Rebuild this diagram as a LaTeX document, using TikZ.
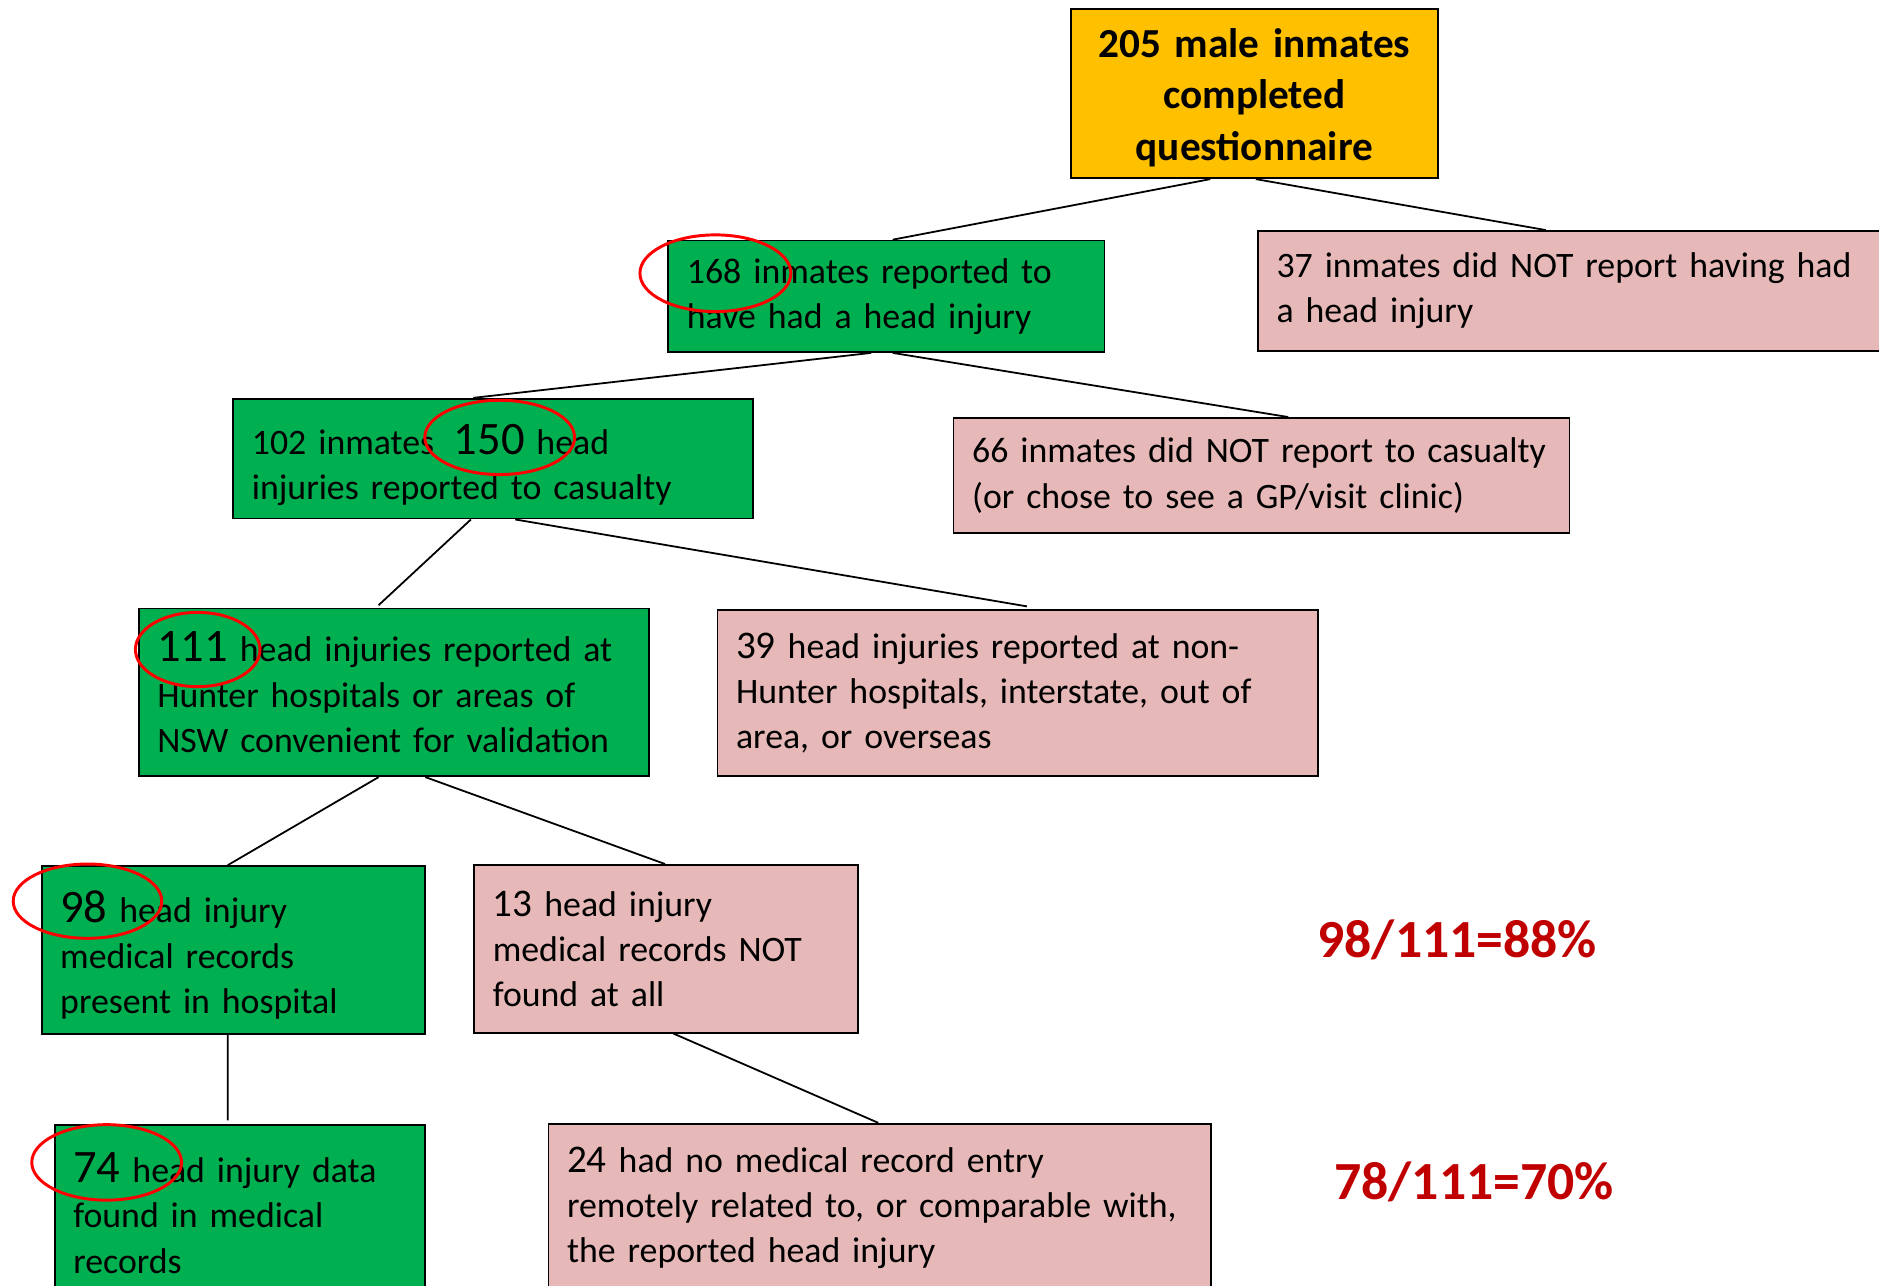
\documentclass[tikz,border=0pt]{standalone}
\usepackage{fontspec}
\setmainfont{Carlito}
\usetikzlibrary{shapes.geometric}
\definecolor{boxorange}{HTML}{FFC000}
\definecolor{boxgreen}{HTML}{00B050}
\definecolor{boxpink}{HTML}{E6B9B8}
\definecolor{pctred}{HTML}{C00000}
\newcommand{\bignum}[1]{{\fontsize{22.1}{21.5}\selectfont #1}}
\newcommand{\midnum}[1]{{\fontsize{18.6}{21.5}\selectfont #1}}
\begin{document}
\begin{tikzpicture}[x=0.02cm,y=-0.02cm,
  flowbox/.style={draw=black, line width=0.85pt, rectangle, anchor=north west, align=left,
    inner xsep=0.31cm, inner ysep=0pt, font=\fontsize{17.0}{21.5}\selectfont},
  greenbox/.style={flowbox, fill=boxgreen},
  pinkbox/.style={flowbox, fill=boxpink},
  link/.style={draw=black, line width=0.85pt},
  ring/.style={draw=red, line width=1.4pt, ellipse, inner sep=0pt},
  pct/.style={font=\bfseries\fontsize{25.5}{30}\selectfont, text=pctred, inner sep=0pt}
]
\useasboundingbox (0,0) rectangle (1568,1073);
\clip (0,0) rectangle (1568,1073);

\node[flowbox, fill=boxorange, align=center, font=\bfseries\fontsize{19.6}{24.4}\selectfont,
  text width=5.4cm, minimum width=6.12cm, minimum height=2.82cm] (top) at (893,7)
  {\rule{0pt}{17.5pt}205 male inmates\\completed\\questionnaire};

\node[greenbox, text width=6.66cm, minimum width=7.28cm, minimum height=1.86cm] (n168) at (557,200)
  {168 inmates reported to\\have had a head injury};
\node[pinkbox, text width=10.18cm, minimum width=10.8cm, minimum height=2.0cm] (n37) at (1049,192)
  {\mbox{37 inmates did NOT report having had}\\a head injury};

\node[greenbox, text width=8.06cm, minimum width=8.68cm, minimum height=2.0cm] (n102) at (194,332)
  {\rule{0pt}{20.5pt}102 inmates\hspace{0.55em}\bignum{150} head\\injuries reported to casualty};
\node[pinkbox, text width=9.66cm, minimum width=10.28cm, minimum height=1.92cm] (n66) at (795,348)
  {\mbox{66 inmates did NOT report to casualty}\\\mbox{(or chose to see a GP/visit clinic)}};

\node[greenbox, text width=7.9cm, minimum width=8.52cm, minimum height=2.8cm] (n111) at (115,507)
  {\bignum{111} head injuries reported at\\Hunter hospitals or areas of\\\mbox{NSW convenient for validation}};
\node[pinkbox, text width=9.4cm, minimum width=10.02cm, minimum height=2.78cm] (n39) at (598,508)
  {\mbox{\midnum{39} head injuries reported at non-}\\\mbox{Hunter hospitals, interstate, out of}\\area, or overseas};

\node[greenbox, text width=5.78cm, minimum width=6.4cm, minimum height=2.8cm] (n98) at (34,722)
  {\rule{0pt}{20pt}\bignum{98} head injury\\medical records\\present in hospital};
\node[pinkbox, text width=5.78cm, minimum width=6.4cm, minimum height=2.8cm] (n13) at (395,721)
  {\midnum{13} head injury\\medical records NOT\\found at all};

\node[greenbox, text width=5.56cm, minimum width=6.18cm, minimum height=2.94cm] (n74) at (45,938)
  {\bignum{74} head injury data\\found in medical\\records};
\node[pinkbox, text width=10.44cm, minimum width=11.06cm, minimum height=2.8cm] (n24) at (457,937)
  {\mbox{\midnum{24} had no medical record entry}\\\mbox{remotely related to, or comparable with,}\\\mbox{the reported head injury}};

\node[pct] (p88) at (1216,784) {98/111=88\%};
\node[pct] (p70) at (1230,986) {78/111=70\%};

\path[link] ([xshift=2.34cm]top.south west) -- ([xshift=3.76cm]n168.north west);
\path[link] ([xshift=3.10cm]top.south west) -- ([xshift=4.82cm]n37.north west);
\path[link] ([xshift=3.40cm]n168.south west) -- ([xshift=4.02cm]n102.north west);
\path[link] ([xshift=3.76cm]n168.south west) -- ([xshift=5.60cm]n66.north west);
\path[link] ([xshift=3.98cm]n102.south west) -- ([xshift=4.02cm,yshift=0.04cm]n111.north west);
\path[link] ([xshift=4.72cm]n102.south west) -- ([xshift=5.18cm,yshift=0.04cm]n39.north west);
\path[link] ([xshift=4.02cm]n111.south west) -- ([xshift=3.12cm]n98.north west);
\path[link] ([xshift=4.80cm]n111.south west) -- ([xshift=3.20cm]n13.north west);
\path[link] ([xshift=3.12cm]n98.south west) -- ([xshift=2.90cm,yshift=0.06cm]n74.north west);
\path[link] ([xshift=3.34cm]n13.south west) -- ([xshift=5.52cm]n24.north west);

\node[ring, minimum width=2.52cm, minimum height=1.28cm] (r168) at (597,228) {};
\node[ring, minimum width=2.5cm, minimum height=1.24cm] (r150) at (417,365) {};
\node[ring, minimum width=2.08cm, minimum height=1.24cm] (r111) at (165,542) {};
\node[ring, minimum width=2.48cm, minimum height=1.24cm] (r98) at (73,752) {};
\node[ring, minimum width=2.5cm, minimum height=1.26cm] (r74) at (89,970) {};
\end{tikzpicture}
\end{document}
